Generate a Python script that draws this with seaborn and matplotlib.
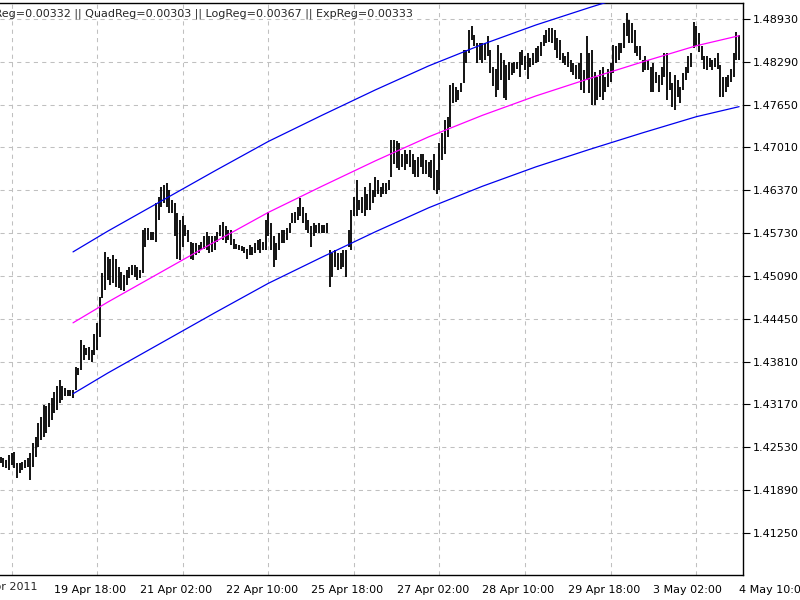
import numpy as np
import pandas as pd
import matplotlib
matplotlib.use("Agg")
import matplotlib.pyplot as plt
from matplotlib.ticker import FixedLocator
import seaborn as sns

# H1 bars (high / low per bar)
highs = [
    1.4239, 1.4237, 1.4234, 1.4241, 1.4244, 1.4246, 1.4229, 1.4229, 1.4231, 1.4234,
    1.4237, 1.4244, 1.4259, 1.4269, 1.4289, 1.4299, 1.4316, 1.4314, 1.4319, 1.4326,
    1.4336, 1.4344, 1.4354, 1.4344, 1.4341, 1.4339, 1.4339, 1.4339, 1.4373, 1.4371,
    1.4413, 1.4406, 1.4401, 1.4403, 1.4398, 1.4423, 1.4438, 1.4478, 1.4513, 1.4545,
    1.4538, 1.4535, 1.4540, 1.4535, 1.4523, 1.4515, 1.4510, 1.4518, 1.4523, 1.4525,
    1.4525, 1.4523, 1.4518, 1.4578, 1.4580, 1.4580, 1.4575, 1.4575, 1.4618, 1.4627,
    1.4642, 1.4645, 1.4648, 1.4638, 1.4623, 1.4618, 1.4603, 1.4593, 1.4598, 1.4585,
    1.4578, 1.4560, 1.4558, 1.4558, 1.4555, 1.4560, 1.4568, 1.4575, 1.4568, 1.4568,
    1.4568, 1.4575, 1.4585, 1.4589, 1.4583, 1.4578, 1.4578, 1.4565, 1.4557, 1.4555,
    1.4554, 1.4553, 1.4550, 1.4555, 1.4553, 1.4558, 1.4563, 1.4565, 1.4560, 1.4593,
    1.4605, 1.4588, 1.4568, 1.4558, 1.4573, 1.4578, 1.4578, 1.4580, 1.4588, 1.4603,
    1.4605, 1.4612, 1.4625, 1.4612, 1.4603, 1.4593, 1.4583, 1.4588, 1.4585, 1.4588,
    1.4585, 1.4585, 1.4588, 1.4548, 1.4543, 1.4548, 1.4543, 1.4543, 1.4548, 1.4548,
    1.4578, 1.4608, 1.4627, 1.4652, 1.4623, 1.4627, 1.4642, 1.4632, 1.4648, 1.4638,
    1.4657, 1.4652, 1.4642, 1.4648, 1.4648, 1.4652, 1.4712, 1.4712, 1.4710, 1.4707,
    1.4692, 1.4697, 1.4692, 1.4697, 1.4692, 1.4682, 1.4687, 1.4692, 1.4692, 1.4682,
    1.4680, 1.4682, 1.4692, 1.4667, 1.4707, 1.4722, 1.4742, 1.4747, 1.4794, 1.4797,
    1.4792, 1.4787, 1.4797, 1.4847, 1.4847, 1.4877, 1.4882, 1.4869, 1.4857, 1.4857,
    1.4857, 1.4857, 1.4867, 1.4847, 1.4822, 1.4819, 1.4854, 1.4842, 1.4832, 1.4824,
    1.4829, 1.4827, 1.4829, 1.4829, 1.4844, 1.4847, 1.4837, 1.4842, 1.4834, 1.4842,
    1.4849, 1.4852, 1.4859, 1.4869, 1.4877, 1.4879, 1.4879, 1.4877, 1.4864, 1.4862,
    1.4842, 1.4837, 1.4844, 1.4832, 1.4827, 1.4824, 1.4827, 1.4842, 1.4817, 1.4867,
    1.4842, 1.4847, 1.4814, 1.4807, 1.4817, 1.4822, 1.4807, 1.4819, 1.4827, 1.4854,
    1.4852, 1.4857, 1.4857, 1.4887, 1.4902, 1.4892, 1.4887, 1.4877, 1.4852, 1.4852,
    1.4832, 1.4837, 1.4832, 1.4822, 1.4827, 1.4814, 1.4809, 1.4822, 1.4842, 1.4842,
    1.4814, 1.4797, 1.4809, 1.4802, 1.4792, 1.4812, 1.4822, 1.4837, 1.4842, 1.4889,
    1.4882, 1.4872, 1.4852, 1.4837, 1.4837, 1.4834, 1.4832, 1.4834, 1.4842, 1.4824,
    1.4807, 1.4807, 1.4809, 1.4819, 1.4842, 1.4874, 1.4869,
]
lows = [
    1.4230, 1.4224, 1.4222, 1.4219, 1.4227, 1.4222, 1.4207, 1.4214, 1.4219, 1.4222,
    1.4224, 1.4204, 1.4224, 1.4239, 1.4254, 1.4264, 1.4269, 1.4274, 1.4284, 1.4294,
    1.4304, 1.4309, 1.4319, 1.4324, 1.4329, 1.4329, 1.4329, 1.4326, 1.4339, 1.4361,
    1.4369, 1.4384, 1.4391, 1.4384, 1.4381, 1.4391, 1.4398, 1.4418, 1.4476, 1.4488,
    1.4503, 1.4496, 1.4498, 1.4493, 1.4491, 1.4488, 1.4486, 1.4496, 1.4506, 1.4510,
    1.4508, 1.4503, 1.4506, 1.4513, 1.4553, 1.4563, 1.4563, 1.4563, 1.4560, 1.4593,
    1.4612, 1.4618, 1.4612, 1.4603, 1.4603, 1.4568, 1.4535, 1.4533, 1.4553, 1.4568,
    1.4560, 1.4535, 1.4533, 1.4540, 1.4543, 1.4548, 1.4550, 1.4548, 1.4543, 1.4545,
    1.4548, 1.4560, 1.4568, 1.4563, 1.4558, 1.4563, 1.4555, 1.4550, 1.4550, 1.4548,
    1.4547, 1.4543, 1.4535, 1.4540, 1.4540, 1.4543, 1.4548, 1.4543, 1.4548, 1.4548,
    1.4568, 1.4548, 1.4523, 1.4533, 1.4548, 1.4558, 1.4558, 1.4563, 1.4573, 1.4588,
    1.4588, 1.4593, 1.4598, 1.4588, 1.4578, 1.4573, 1.4553, 1.4568, 1.4573, 1.4573,
    1.4573, 1.4573, 1.4573, 1.4493, 1.4508, 1.4523, 1.4518, 1.4520, 1.4523, 1.4508,
    1.4553, 1.4548, 1.4598, 1.4598, 1.4608, 1.4603, 1.4598, 1.4608, 1.4608, 1.4618,
    1.4627, 1.4632, 1.4627, 1.4632, 1.4632, 1.4638, 1.4657, 1.4677, 1.4670, 1.4667,
    1.4672, 1.4667, 1.4677, 1.4672, 1.4662, 1.4657, 1.4657, 1.4672, 1.4662, 1.4662,
    1.4657, 1.4655, 1.4638, 1.4632, 1.4638, 1.4682, 1.4692, 1.4717, 1.4732, 1.4767,
    1.4769, 1.4772, 1.4784, 1.4797, 1.4827, 1.4842, 1.4862, 1.4852, 1.4827, 1.4832,
    1.4827, 1.4832, 1.4837, 1.4812, 1.4793, 1.4777, 1.4787, 1.4802, 1.4775, 1.4772,
    1.4802, 1.4809, 1.4812, 1.4819, 1.4807, 1.4824, 1.4817, 1.4804, 1.4822, 1.4824,
    1.4827, 1.4829, 1.4837, 1.4852, 1.4857, 1.4859, 1.4857, 1.4847, 1.4834, 1.4832,
    1.4827, 1.4824, 1.4822, 1.4814, 1.4809, 1.4804, 1.4804, 1.4787, 1.4782, 1.4802,
    1.4782, 1.4765, 1.4765, 1.4772, 1.4777, 1.4772, 1.4784, 1.4792, 1.4799, 1.4812,
    1.4827, 1.4832, 1.4842, 1.4849, 1.4867, 1.4857, 1.4857, 1.4842, 1.4837, 1.4832,
    1.4814, 1.4817, 1.4817, 1.4784, 1.4784, 1.4797, 1.4784, 1.4794, 1.4807, 1.4772,
    1.4787, 1.4762, 1.4757, 1.4777, 1.4767, 1.4787, 1.4802, 1.4812, 1.4822, 1.4849,
    1.4852, 1.4844, 1.4832, 1.4819, 1.4817, 1.4822, 1.4817, 1.4822, 1.4819, 1.4777,
    1.4777, 1.4784, 1.4792, 1.4799, 1.4807, 1.4832, 1.4832,
]

# regression channel, sampled at these bars
channel_bars = [27, 40, 60, 80, 100, 120, 140, 160, 180, 200, 220, 240, 260, 276]
channel_mid = [1.4439, 1.4470, 1.4515, 1.4560, 1.4604, 1.4643, 1.4681,
               1.4717, 1.4749, 1.4778, 1.4804, 1.4829, 1.4853, 1.4868]
channel_up = [1.4545, 1.4576, 1.4621, 1.4666, 1.4710, 1.4749, 1.4787,
              1.4823, 1.4855, 1.4884, 1.4910, 1.4935, 1.4959, 1.4974]
channel_dn = [1.4333, 1.4364, 1.4409, 1.4454, 1.4498, 1.4537, 1.4575,
              1.4611, 1.4643, 1.4672, 1.4698, 1.4723, 1.4747, 1.4762]

tick_bars = [20, 52, 84, 116, 148, 180, 212, 244, 276]
tick_labels = ["19 Apr 18:00", "21 Apr 02:00", "22 Apr 10:00", "25 Apr 18:00",
               "27 Apr 02:00", "28 Apr 10:00", "29 Apr 18:00", "3 May 02:00",
               "4 May 10:00"]
first_label = "18 Apr 2011"
first_bar = -12

price_ticks = [1.41250, 1.41890, 1.42530, 1.43170, 1.43810, 1.44450, 1.45090,
               1.45730, 1.46370, 1.47010, 1.47650, 1.48290, 1.48930]

header = "LinReg=0.00332 || QuadReg=0.00303 || LogReg=0.00367 || ExpReg=0.00333"

sns.set_style("white")
plt.rcParams['font.family'] = ['DejaVu Sans']

bars = pd.DataFrame({"bar": np.arange(len(highs)), "high": highs, "low": lows})
chan = pd.DataFrame({"bar": channel_bars, "mid": channel_mid,
                     "up": channel_up, "dn": channel_dn})

fig = plt.figure(figsize=(8, 6), dpi=100)
ax = fig.add_axes([0.0, 1 - 575 / 600, 743 / 800, 572 / 600])

grid_kw = dict(color="#c0c0c0", linewidth=0.75, linestyle=(0, (4, 4)))

# price bars (high-low)
ax.vlines(bars["bar"], bars["low"], bars["high"], color="black", linewidth=1.3, zorder=3)

# regression channel
sns.lineplot(data=chan, x="bar", y="up", color="#0000ee", linewidth=0.9, ax=ax, zorder=4)
sns.lineplot(data=chan, x="bar", y="dn", color="#0000ee", linewidth=0.9, ax=ax, zorder=4)
sns.lineplot(data=chan, x="bar", y="mid", color="#ff00ff", linewidth=0.9, ax=ax, zorder=4)

ax.set_xlim(-0.3, 277.46)
ax.set_ylim(1.40622, 1.49169)

ax.set_xticks(tick_bars)
ax.set_xticklabels(tick_labels, ha="left", fontsize=8)
ax.xaxis.set_minor_locator(FixedLocator(list(range(4, 277, 16))))
ax.tick_params(axis="x", which="minor", length=0)
ax.yaxis.tick_right()
ax.set_yticks(price_ticks)
ax.set_yticklabels([f"{p:.5f}" for p in price_ticks], fontsize=8)
ax.tick_params(axis="both", which="major", direction="out", length=5, width=0.8,
               color="black", labelcolor="black")
ax.tick_params(axis="x", which="major", pad=2)
ax.tick_params(axis="y", which="major", pad=2)

ax.grid(False)
ax.xaxis.grid(True, which="minor", **grid_kw)
ax.yaxis.grid(True, which="major", **grid_kw)
ax.set_axisbelow(True)

ax.set_xlabel("")
ax.set_ylabel("")
for side in ["top", "right", "bottom"]:
    ax.spines[side].set_visible(True)
    ax.spines[side].set_color("black")
    ax.spines[side].set_linewidth(1.0)
ax.spines["left"].set_visible(False)

# first date label sits left of the view, cut off by the edge
ax.text(first_bar, 1.40622 - 0.0011, first_label, fontsize=8, ha="left", va="top",
        clip_on=False)

fig.text(413 / 800, 1 - 14 / 600, header, fontsize=8, ha="right", va="center")

fig.savefig("out.png", dpi=100)
